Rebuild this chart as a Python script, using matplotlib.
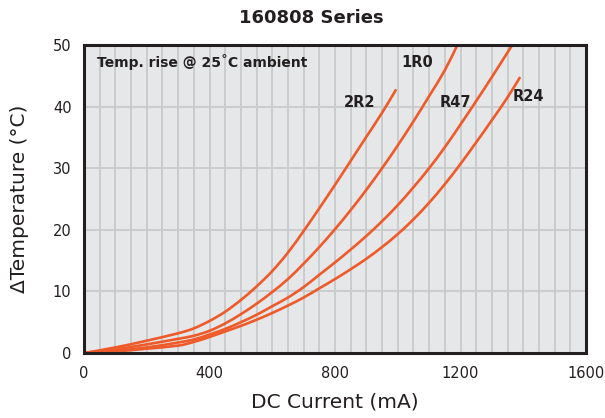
import matplotlib
matplotlib.use("Agg")
import matplotlib.pyplot as plt
from matplotlib.path import Path
from matplotlib.patches import PathPatch

# ---- data ----
x_2r2 = [0, 100, 200, 300, 350, 400, 450, 500, 550, 600, 650, 700, 750, 800, 850, 900, 950, 995]
y_2r2 = [0, 0.9, 2.0, 3.2, 4.0, 5.2, 6.7, 8.6, 10.8, 13.3, 16.3, 19.8, 23.5, 27.3, 31.2, 35.1, 39.0, 42.8]

x_1r0 = [0, 100, 200, 300, 350, 400, 450, 500, 550, 600, 650, 700, 750, 800, 850, 900, 950, 1000, 1050, 1100, 1150, 1190]
y_1r0 = [0, 0.6, 1.4, 2.3, 2.8, 3.6, 4.8, 6.3, 8.0, 9.9, 12.0, 14.5, 17.2, 20.1, 23.2, 26.5, 30.0, 33.7, 37.6, 41.7, 45.9, 50.0]

x_r47 = [0, 100, 200, 300, 350, 400, 450, 500, 550, 600, 650, 700, 750, 800, 850, 900, 950, 1000, 1050, 1100, 1150, 1200, 1250, 1300, 1350, 1365]
y_r47 = [0, 0.35, 0.9, 1.7, 2.2, 3.0, 3.9, 5.0, 6.2, 7.6, 9.0, 10.7, 12.7, 14.7, 16.8, 19.0, 21.4, 24.0, 26.9, 30.0, 33.4, 37.1, 40.9, 44.8, 48.8, 50.0]

x_r24 = [0, 100, 200, 300, 350, 400, 450, 500, 550, 600, 650, 700, 750, 800, 850, 900, 950, 1000, 1050, 1100, 1150, 1200, 1250, 1300, 1350, 1390]
y_r24 = [0, 0.25, 0.7, 1.2, 1.8, 2.6, 3.5, 4.4, 5.4, 6.5, 7.7, 9.0, 10.5, 12.0, 13.6, 15.3, 17.2, 19.3, 21.7, 24.4, 27.4, 30.7, 34.2, 37.8, 41.5, 44.8]

series_names = ["2R2", "1R0", "R47", "R24"]
label_pos_x = [878, 1062, 1183, 1417]
label_pos_y = [40.7, 47.2, 40.7, 41.7]

x_ticks = [0, 400, 800, 1200, 1600]
y_ticks = [0, 10, 20, 30, 40, 50]

# ---- styling ----
line_color = "#EE5A2A"
bg_color = "#E6E7E8"
grid_color = "#C9CACC"
spine_color = "#231F20"
text_color = "#231F20"
font = "DejaVu Sans"


def smooth_path(xs, ys):
    """Cubic Bezier path passing through every data point (Catmull-Rom)."""
    pts = list(zip(xs, ys))
    n = len(pts)
    verts = [pts[0]]
    codes = [Path.MOVETO]
    for i in range(n - 1):
        p0 = pts[i - 1] if i > 0 else pts[i]
        p1 = pts[i]
        p2 = pts[i + 1]
        p3 = pts[i + 2] if i + 2 < n else pts[i + 1]
        c1 = (p1[0] + (p2[0] - p0[0]) / 6.0, p1[1] + (p2[1] - p0[1]) / 6.0)
        c2 = (p2[0] - (p3[0] - p1[0]) / 6.0, p2[1] - (p3[1] - p1[1]) / 6.0)
        verts += [c1, c2, p2]
        codes += [Path.CURVE4, Path.CURVE4, Path.CURVE4]
    return Path(verts, codes)


fig = plt.figure(figsize=(6.05, 4.18), dpi=100)
ax = fig.add_axes([84 / 605, 1 - 353 / 418, (586 - 84) / 605, (353 - 45) / 418])
ax.set_facecolor(bg_color)

ax.set_xlim(0, 1600)
ax.set_ylim(0, 50)

# grid: vertical every 50 mA, horizontal every 10 C
for gx in range(50, 1600, 50):
    ax.axvline(gx, color=grid_color, lw=1.3, zorder=1)
for gy in range(10, 50, 10):
    ax.axhline(gy, color=grid_color, lw=1.3, zorder=1)

for xs, ys in [(x_2r2, y_2r2), (x_1r0, y_1r0), (x_r47, y_r47), (x_r24, y_r24)]:
    patch = PathPatch(smooth_path(xs, ys), facecolor="none", edgecolor=line_color,
                      lw=1.9, zorder=3, capstyle="butt")
    ax.add_patch(patch)

for name, lx, ly in zip(series_names, label_pos_x, label_pos_y):
    ax.text(lx, ly, name, ha="center", va="center", fontsize=10.5,
            fontweight="bold", color=text_color, family=font, zorder=4)

ax.text(40, 47.2, "Temp. rise @ 25˚C ambient", ha="left", va="center",
        fontsize=10, fontweight="bold", color=text_color, family=font, zorder=4)

for sp in ax.spines.values():
    sp.set_color(spine_color)
    sp.set_linewidth(2.2)
    sp.set_zorder(5)

ax.set_xticks(x_ticks)
ax.set_yticks(y_ticks)
ax.tick_params(length=0, pad=9, labelsize=10.5, labelcolor=text_color)
for lab in ax.get_xticklabels() + ax.get_yticklabels():
    lab.set_family(font)

ax.set_xlabel("DC Current (mA)", fontsize=14.5, color=text_color, family=font, labelpad=9)
ax.set_ylabel("ΔTemperature (°C)", fontsize=14.5, color=text_color, family=font, labelpad=17)

fig.text(311 / 605, 1 - 18 / 418, "160808 Series", ha="center", va="center",
         fontsize=13, fontweight="bold", color=text_color, family=font)

fig.savefig("out.png", dpi=100, facecolor="white")
